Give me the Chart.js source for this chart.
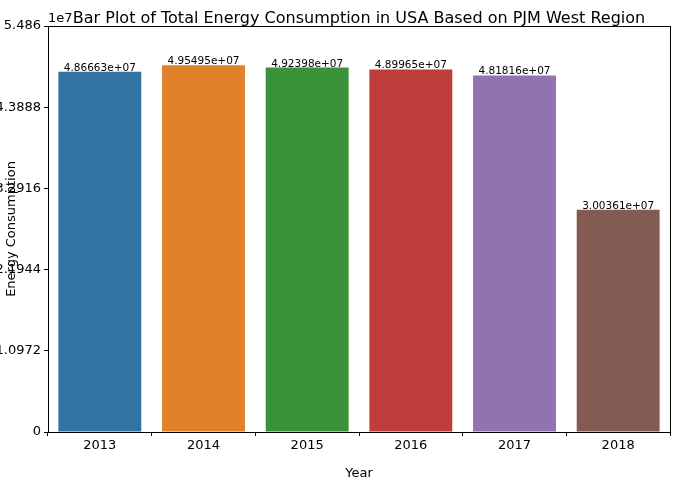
<!DOCTYPE html>
<html><head><meta charset="utf-8">
<script src="https://cdn.jsdelivr.net/npm/chart.js@4"></script>
<style>body{margin:0;background:#fff}#w{width:678px;height:485px}</style>
</head><body><div id="w"><canvas id="c"></canvas></div>
<script>
const years = ['2013','2014','2015','2016','2017','2018'];
const consumption = [48666300, 49549500, 49239800, 48996500, 48181600, 30036100];
const labels = ['4.86663e+07','4.95495e+07','4.92398e+07','4.89965e+07','4.81816e+07','3.00361e+07'];
const colors = ['#3274a1','#e1812c','#3a923a','#c03d3e','#9372b2','#845b53'];
const F = 'DejaVu Sans';
const deco = {
  id:'deco',
  afterDraw(ch){
    const c=ch.ctx, a=ch.chartArea;
    c.save();
    c.strokeStyle='#000'; c.lineWidth=1;
    c.strokeRect(a.left+0.5,a.top+0.5,a.right-a.left,a.bottom-a.top);
    c.fillStyle='#000'; c.textAlign='center'; c.textBaseline='alphabetic';
    c.font='16px "'+F+'"';
    c.fillText('Bar Plot of Total Energy Consumption in USA Based on PJM West Region',(a.left+a.right)/2,23);
    c.font='13px "'+F+'"'; c.textAlign='left';
    c.fillText('1e7',a.left,22);
    const meta=ch.getDatasetMeta(0);
    c.font='10.5px "'+F+'"'; c.textAlign='center';
    meta.data.forEach((b,i)=>c.fillText(labels[i],b.x,b.y-1));
    c.restore();
  }
};
new Chart(document.getElementById('c'),{
  type:'bar',
  data:{labels:years,datasets:[{data:consumption,backgroundColor:colors,barPercentage:0.8,categoryPercentage:1}]},
  options:{
    responsive:true,maintainAspectRatio:false,animation:false,
    layout:{padding:{top:26,right:8,left:0,bottom:0}},
    plugins:{legend:{display:false},tooltip:{enabled:false}},
    scales:{
      x:{grid:{display:true,drawOnChartArea:false,tickLength:4,color:'#000'},border:{color:'#000'},
        ticks:{color:'#000',font:{family:F,size:13},padding:2},
        title:{display:true,text:'Year',color:'#000',font:{family:F,size:13},padding:{top:2}},
        afterFit(s){s.height=53;}},
      y:{min:0,max:54860000,grid:{display:true,drawOnChartArea:false,tickLength:4,color:'#000'},border:{color:'#000'},
        ticks:{stepSize:1e7,color:'#000',font:{family:F,size:13},padding:3,callback:v=>v/1e7},
        title:{display:true,text:'Energy Consumption',color:'#000',font:{family:F,size:13},padding:{bottom:2}},
        afterFit(s){s.width=48;}}
    }
  },
  plugins:[deco]
});
</script></body></html>
